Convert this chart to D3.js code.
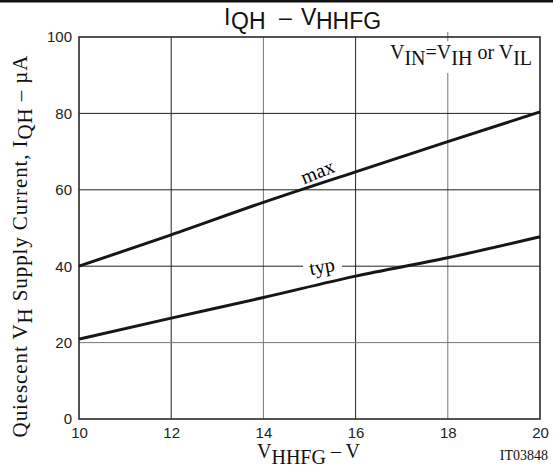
<!DOCTYPE html>
<html>
<head>
<meta charset="utf-8">
<script src="https://cdn.jsdelivr.net/npm/d3@7"></script>
<style>
  body { margin: 0; background: #fff; }
  svg { display: block; }
</style>
</head>
<body>
<svg id="chart" width="553" height="473"></svg>
<script>
// values
const vhhfg = [10, 12, 14, 16, 18, 20]
const iqhMax = [40, 48.2, 56.7, 64.7, 72.6, 80.4]
const iqhTyp = [20.9, 26.4, 31.8, 37.4, 42.2, 47.7]
const xTicks = [10, 12, 14, 16, 18, 20]
const yTicks = [0, 20, 40, 60, 80, 100]

const svg = d3.select("#chart")
const sans = "Liberation Sans, Arial, sans-serif"
const serif = "Liberation Serif, Times New Roman, serif"

const plotL = 79, plotR = 540, plotT = 37, plotB = 419
const x = d3.scaleLinear().domain([10, 20]).range([plotL, plotR])
const y = d3.scaleLinear().domain([0, 100]).range([plotB, plotT])

// black rule at the very top
svg.append("rect").attr("x", 0).attr("y", 0).attr("width", 553).attr("height", 2.5).attr("fill", "#111")

// grid
svg.append("g").selectAll("line").data([12, 14, 16, 18]).join("line")
  .attr("x1", d => x(d)).attr("x2", d => x(d))
  .attr("y1", (d) => d === 18 ? plotT - 5 : plotT).attr("y2", plotB)
  .attr("stroke", (d, i) => i % 2 ? "#777" : "#222").attr("stroke-width", 1)

svg.append("g").selectAll("line").data([20, 40, 60, 80]).join("line")
  .attr("x1", plotL).attr("x2", plotR)
  .attr("y1", d => y(d)).attr("y2", d => y(d))
  .attr("stroke", d => d === 20 ? "#777" : "#222").attr("stroke-width", 1)

// frame
svg.append("rect").attr("x", plotL).attr("y", plotT)
  .attr("width", plotR - plotL).attr("height", plotB - plotT)
  .attr("fill", "none").attr("stroke", "#2a2a2a").attr("stroke-width", 1.6)

// axes (labels only)
const xAxis = svg.append("g").attr("transform", `translate(0,${plotB})`)
  .call(d3.axisBottom(x).tickValues(xTicks).tickSize(0).tickPadding(8))
const yAxis = svg.append("g").attr("transform", `translate(${plotL},0)`)
  .call(d3.axisLeft(y).tickValues(yTicks).tickSize(0).tickPadding(7))
for (const g of [xAxis, yAxis]) {
  g.select(".domain").remove()
  g.selectAll("text").attr("font-family", sans).attr("font-size", 15).attr("fill", "#222")
}

// curves
const line = d3.line().x(d => x(d[0])).y(d => y(d[1])).curve(d3.curveMonotoneX)
svg.append("path").datum(vhhfg.map((v, i) => [v, iqhMax[i]])).attr("d", line)
  .attr("fill", "none").attr("stroke", "#161616").attr("stroke-width", 3)
svg.append("path").datum(vhhfg.map((v, i) => [v, iqhTyp[i]])).attr("d", line)
  .attr("fill", "none").attr("stroke", "#161616").attr("stroke-width", 3)

// curve labels
svg.append("text").attr("transform", "translate(320,178) rotate(-22)")
  .attr("text-anchor", "middle").attr("font-family", serif).attr("font-size", 20).text("max")
svg.append("rect").attr("x", 303).attr("y", 260).attr("width", 39).attr("height", 14).attr("fill", "#fff")
svg.append("text").attr("transform", "translate(323,273) rotate(-10)")
  .attr("text-anchor", "middle").attr("font-family", serif).attr("font-size", 20).text("typ")

// condition note
svg.append("rect").attr("x", 388).attr("y", 41).attr("width", 148).attr("height", 32).attr("fill", "#fff")
const note = svg.append("text").attr("x", 390).attr("y", 59)
  .attr("font-family", serif).attr("font-size", 20).attr("fill", "#111")
note.append("tspan").text("V")
note.append("tspan").attr("dy", 6).text("IN")
note.append("tspan").attr("dy", -6).text("=V")
note.append("tspan").attr("dy", 6).text("IH")
note.append("tspan").attr("dy", -6).text(" or V")
note.append("tspan").attr("dy", 6).text("IL")

// title
const title = svg.append("text").attr("y", 25)
  .attr("font-family", sans).attr("font-size", 23).attr("fill", "#111")
title.append("tspan").attr("x", 224).text("I")
title.append("tspan").attr("x", 231).attr("dy", 4).text("QH")
title.append("tspan").attr("x", 279).attr("dy", -4).text("\u2013")
title.append("tspan").attr("x", 301).text("V")
title.append("tspan").attr("x", 316).attr("dy", 4).text("HHFG")

// y label
const yl = svg.append("text").attr("transform", "translate(27,246) rotate(-90)")
  .attr("text-anchor", "middle").attr("font-family", serif).attr("font-size", 21)
  .attr("letter-spacing", 0.9).attr("fill", "#111")
yl.append("tspan").text("Quiescent V")
yl.append("tspan").attr("dy", 5).text("H")
yl.append("tspan").attr("dy", -5).text(" Supply Current, I")
yl.append("tspan").attr("dy", 5).text("QH")
yl.append("tspan").attr("dy", -5).text("  \u2013  \u00b5A")

// x label
const xl = svg.append("text").attr("x", 257).attr("y", 458)
  .attr("font-family", serif).attr("font-size", 20).attr("fill", "#111")
xl.append("tspan").text("V")
xl.append("tspan").attr("dy", 6).text("HHFG")
xl.append("tspan").attr("dy", -6).text("  \u2013  V")

svg.append("text").attr("x", 548).attr("y", 460).attr("text-anchor", "end")
  .attr("font-family", serif).attr("font-size", 14).attr("fill", "#111").text("IT03848")
</script>
</body>
</html>
